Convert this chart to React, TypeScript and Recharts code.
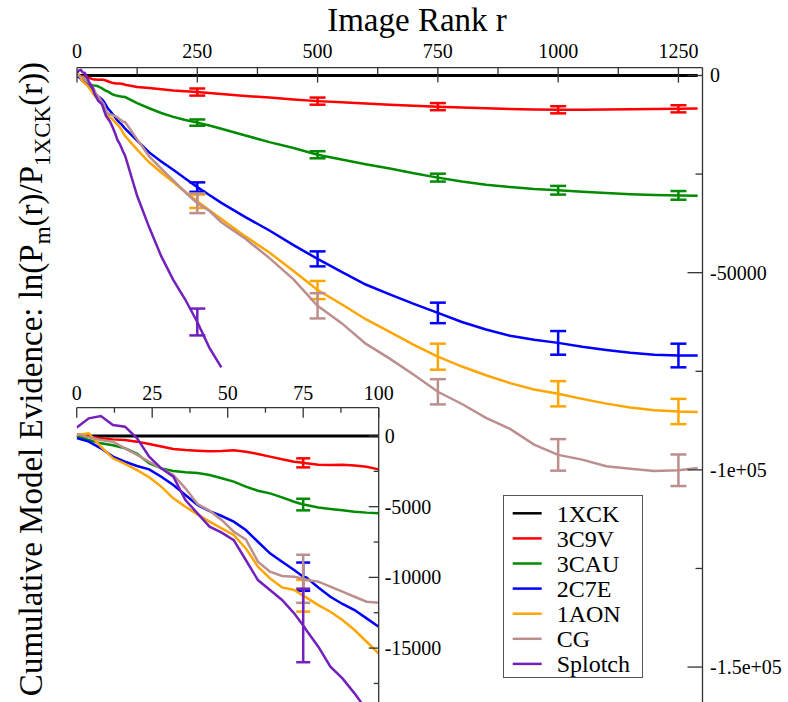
import React from 'react';
import { LineChart, Line, XAxis, YAxis, ErrorBar, CartesianGrid } from 'recharts';

const FONT = '"Liberation Serif", "Times New Roman", serif';
const AXIS = '#333';

const ranks = [
  0, 4, 8, 12, 16, 20, 24, 28, 32, 36, 40, 44, 48, 52, 56, 60, 64, 68, 72, 75, 76, 80, 84, 88, 92, 96, 100,
  125, 150, 175, 200, 225, 250, 275, 300, 350, 400, 450, 500, 550, 600, 650, 700, 750, 800, 850, 900, 950,
  1000, 1050, 1100, 1150, 1200, 1250, 1290,
];

const names = ['1XCK', '3C9V', '3CAU', '2C7E', '1AON', 'CG', 'Splotch'];
const colors = ['#000000', '#ff0000', '#008b00', '#0000ff', '#ffa500', '#bc8f8f', '#7221bc'];

// reference model is flat zero
const ranks1XCK = [0, 1290];
const v1XCK = [0, 0];

const v3C9V = [
  0, -50, -160, -240, -280, -400, -570, -750, -920, -990, -1040, -1080, -1060, -1010, -1110, -1270, -1460, -1650, -1820, -1900, -1930, -2030, -2050, -2030, -2080, -2170, -2360,
  -2900, -3200, -3500, -3800, -4000, -4200, -4450, -4700, -5200, -5600, -6100, -6500, -6800, -7100, -7400, -7700, -7900, -8100, -8300, -8500, -8600,
  -8700, -8700, -8650, -8550, -8500, -8450, -8400,
];
const v3CAU = [
  0, -280, -520, -660, -870, -1270, -1930, -2290, -2480, -2570, -2620, -2760, -2990, -3230, -3580, -3870, -4060, -4340, -4650, -4850, -4880, -5050, -5160, -5260, -5350, -5420, -5470,
  -7000, -8300, -9500, -10500, -11300, -11950, -12700, -13500, -15200, -16900, -18400, -20100, -21300, -22500, -23600, -24800, -25900, -26900, -27700, -28300, -28800,
  -29100, -29500, -29800, -30100, -30300, -30400, -30500,
];
const v2C7E = [
  -150, -400, -870, -1460, -1820, -2120, -2360, -2880, -3470, -4170, -4880, -5310, -5660, -6060, -6650, -7480, -8300, -8890, -9480, -9950, -10000, -10710, -11370, -11880, -12310, -12900, -13490,
  -16500, -19500, -21800, -23900, -26100, -28300, -30300, -32300, -35900, -39300, -43000, -46500, -49800, -53000, -55500, -57900, -60200, -62500, -64400, -66000, -67000,
  -67800, -68800, -69600, -70300, -70800, -71000, -71000,
];
const v1AON = [
  70, 190, -750, -1580, -1980, -2410, -2920, -3580, -4410, -5000, -5540, -6060, -6530, -7000, -7950, -9240, -10070, -10710, -10890, -11300, -11410, -11960, -12430, -13020, -13720, -14550, -15370,
  -18800, -22000, -24600, -27000, -29500, -31900, -34200, -36400, -40800, -44900, -49600, -54400, -58000, -61800, -65000, -68300, -71300, -73800, -76000, -78000, -79600,
  -80700, -82000, -83200, -84200, -84900, -85200, -85300,
];
const vCG = [
  140, -90, -280, -400, -870, -1340, -1820, -2290, -2760, -3700, -4810, -5280, -5940, -6770, -7310, -8890, -9600, -9900, -9950, -10100, -10190, -10300, -10660, -11010, -11370, -11720, -11790,
  -16200, -20500, -23600, -26600, -29600, -32400, -34300, -37200, -41400, -46300, -51700, -58400, -62800, -68000, -71800, -75900, -80200, -83300, -86800, -89600, -93600,
  -96200, -97400, -99100, -99700, -100300, -100100, -99500,
];
// Splotch stops near r = 300
const vSplotch = [
  600, 1250, 1410, 780, 660, -170, -1460, -2290, -2880, -4530, -5470, -6410, -6840, -7360, -8770, -10190, -10890, -11600, -12540, -13400, -13720, -14900, -16320, -17140, -18200, -19380, -20330,
  -30500, -38500, -45800, -51800, -56800, -62500, -69000, -74000,
];

// error bars on the main plot
const barRanks = [250, 500, 750, 1000, 1250];
const err3C9V = [900, 900, 900, 900, 900];
const err3CAU = [800, 900, 1000, 1100, 1100];
const err2C7E = [1200, 1900, 2600, 3000, 3000];
const err1AON = [1700, 2300, 3300, 3200, 3200];
const errCG = [2500, 3200, 3200, 4000, 4000];
const errSplotch = [3400];

// error bars on the inset, all at r = 75
const insetBarRank = 75;
const insetErr = [0, 320, 410, 1000, 1120, 1700, 2600];

const mainXTicks = [0, 125, 250, 375, 500, 625, 750, 875, 1000, 1125, 1250];
const mainYTicks = [0, -25000, -50000, -75000, -100000, -125000, -150000];
const insetXTicks = [0, 12.5, 25, 37.5, 50, 62.5, 75, 87.5, 100];
const insetYTicks = [0, -2500, -5000, -7500, -10000, -12500, -15000, -17500];

const seriesValues = [v1XCK, v3C9V, v3CAU, v2C7E, v1AON, vCG, vSplotch];
const seriesErr = [[], err3C9V, err3CAU, err2C7E, err1AON, errCG, errSplotch];

const seriesRows = seriesValues.map((vals, i) => {
  const rs = i === 0 ? ranks1XCK : ranks;
  return vals.map((v, k) => {
    const r = rs[k];
    const bi = barRanks.indexOf(r);
    const e = bi >= 0 ? seriesErr[i][bi] : undefined;
    const ei = r === insetBarRank && insetErr[i] ? insetErr[i] : undefined;
    return { r, v, e, ei };
  });
});
const insetRows = seriesRows.map((rows, i) =>
  i === 0 ? [{ r: 0, v: 0 }, { r: 100, v: 0 }] : rows.filter((d) => d.r <= 100)
);

const fmtMain = (v: number) => {
  if (v === 0) return '0';
  if (v === -50000) return '-50000';
  if (v === -100000) return '-1e+05';
  if (v === -150000) return '-1.5e+05';
  return String(v);
};

const topTick = (len: number, minorLen: number, every: number, gap: number) => (p: any) => {
  const v = p.payload.value;
  const major = Math.abs(v % every) < 1e-6;
  return (
    <g>
      <line x1={p.x} y1={p.y} x2={p.x} y2={p.y + (major ? len : minorLen)} stroke={AXIS} strokeWidth={1.3} />
      {major && (
        <text x={p.x} y={p.y - gap} textAnchor="middle" fontFamily={FONT} fontSize={20} fill="#000">
          {v}
        </text>
      )}
    </g>
  );
};

const rightTick = (len: number, minorLen: number, every: number, gap: number, fmt: (v: number) => string) => (p: any) => {
  const v = p.payload.value;
  const major = Math.abs(v % every) < 1e-6;
  return (
    <g>
      <line x1={p.x} y1={p.y} x2={p.x - (major ? len : minorLen)} y2={p.y} stroke={AXIS} strokeWidth={1.3} />
      {major && (
        <text x={p.x + gap} y={p.y} dy="0.35em" textAnchor="start" fontFamily={FONT} fontSize={20} fill="#000">
          {fmt(v)}
        </text>
      )}
    </g>
  );
};

const axisLine = { stroke: AXIS, strokeWidth: 1.3 };

const MainChart = () => (
  <LineChart width={788} height={720} margin={{ top: 37.6, right: 5.5, bottom: 13.5, left: 77 }}>
    <XAxis
      xAxisId={0}
      dataKey="r"
      type="number"
      orientation="top"
      height={30}
      domain={[0, 1300]}
      allowDataOverflow
      ticks={mainXTicks}
      interval={0}
      tickSize={0}
      tickMargin={0}
      tickLine={false}
      axisLine={axisLine}
      tick={topTick(15, 7, 250, 10)}
    />
    <YAxis
      yAxisId={0}
      type="number"
      orientation="right"
      width={80}
      domain={[-160000, 2000]}
      allowDataOverflow
      ticks={mainYTicks}
      interval={0}
      tickSize={0}
      tickMargin={0}
      tickLine={false}
      axisLine={axisLine}
      tick={rightTick(15, 7, 50000, 7.5, fmtMain)}
    />
    <YAxis yAxisId="l" type="number" orientation="left" width={0} domain={[-160000, 2000]} tick={false} tickLine={false} axisLine={axisLine} />
    {seriesRows.map((rows, i) => (
      <Line
        key={names[i]}
        data={rows}
        dataKey="v"
        name={names[i]}
        type="linear"
        stroke={colors[i]}
        strokeWidth={i === 0 ? 3 : 2.5}
        dot={false}
        activeDot={false}
        isAnimationActive={false}
      >
        {i > 0 && (
          <ErrorBar dataKey="e" direction="y" width={8} stroke={colors[i]} strokeWidth={2.5} isAnimationActive={false} />
        )}
      </Line>
    ))}
  </LineChart>
);

const InsetChart = () => (
  <LineChart width={470} height={368.8} margin={{ top: 17.7, right: 11.3, bottom: 10, left: 76.7 }}>
    <CartesianGrid fill="#ffffff" horizontal={false} vertical={false} stroke="none" />
    <XAxis
      dataKey="r"
      type="number"
      orientation="top"
      height={30}
      domain={[0, 100]}
      allowDataOverflow
      ticks={insetXTicks}
      interval={0}
      tickSize={0}
      tickMargin={0}
      tickLine={false}
      axisLine={axisLine}
      tick={topTick(10, 5, 25, 8)}
    />
    <YAxis
      yAxisId={0}
      type="number"
      orientation="right"
      width={80}
      domain={[-20000, 2000]}
      allowDataOverflow
      ticks={insetYTicks}
      interval={0}
      tickSize={0}
      tickMargin={0}
      tickLine={false}
      axisLine={axisLine}
      tick={rightTick(10, 5, 5000, 6, (v) => String(v))}
    />
    <YAxis yAxisId="l" type="number" orientation="left" width={0} domain={[-20000, 2000]} tick={false} tickLine={false} axisLine={axisLine} />
    {insetRows.map((rows, i) => (
      <Line
        key={names[i]}
        data={rows}
        dataKey="v"
        name={names[i]}
        type="linear"
        stroke={colors[i]}
        strokeWidth={i === 0 ? 3 : 2.5}
        dot={false}
        activeDot={false}
        isAnimationActive={false}
      >
        {i > 0 && (
          <ErrorBar dataKey="ei" direction="y" width={7} stroke={colors[i]} strokeWidth={2.5} isAnimationActive={false} />
        )}
      </Line>
    ))}
  </LineChart>
);

const Overlay = () => (
  <svg width={788} height={702} style={{ position: 'absolute', left: 0, top: 0, pointerEvents: 'none' }}>
    <text x={417} y={31} textAnchor="middle" fontFamily={FONT} fontSize={33} fill="#000">
      Image Rank r
    </text>
    <g transform="translate(42,379) rotate(-90)">
      <text x={0} y={0} textAnchor="middle" fontFamily={FONT} fontSize={33} fill="#000">
        Cumulative Model Evidence: ln(P
        <tspan fontSize={23} dy={8}>m</tspan>
        <tspan dy={-8}>(r)/P</tspan>
        <tspan fontSize={23} dy={8}>1XCK</tspan>
        <tspan dy={-8}>(r))</tspan>
      </text>
    </g>
    <g>
      <rect x={503.5} y={495.5} width={139} height={182} fill="#fff" stroke="#555" strokeWidth={1} />
      {names.map((n, i) => (
        <g key={n}>
          <line x1={512.7} x2={541.7} y1={513.3 + i * 25.1} y2={513.3 + i * 25.1} stroke={colors[i]} strokeWidth={2.5} />
          <text x={556.7} y={513.3 + i * 25.1} dy="0.35em" fontFamily={FONT} fontSize={24} fill="#000">
            {n}
          </text>
        </g>
      ))}
    </g>
  </svg>
);

export default function App() {
  return (
    <div style={{ position: 'absolute', left: 0, top: 0, width: 788, height: 702, overflow: 'hidden', background: '#fff' }}>
      <div style={{ position: 'absolute', left: 0, top: 0 }}>
        <MainChart />
      </div>
      <div style={{ position: 'absolute', left: 0, top: 360 }}>
        <InsetChart />
      </div>
      <Overlay />
    </div>
  );
}
